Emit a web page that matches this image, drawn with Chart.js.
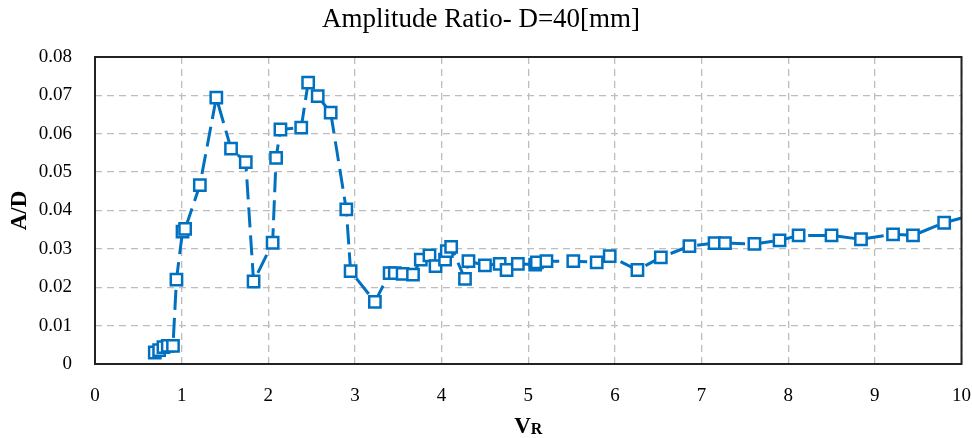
<!DOCTYPE html>
<html>
<head>
<meta charset="utf-8">
<script src="https://cdn.jsdelivr.net/npm/chart.js@4/dist/chart.umd.min.js"></script>
<style>
    html, body { margin: 0; padding: 0; background: #ffffff; }
    #wrap { width: 972px; height: 438px; }
</style>
</head>
<body>
<div id="wrap"><canvas id="ratioChart" width="972" height="438"></canvas></div>
<script>
// Velocity ratio (x) and amplitude ratio A/D (y)
const vrValues = [0.69, 0.74, 0.79, 0.84, 0.90, 0.94, 1.01, 1.04, 1.21, 1.40,
    1.57, 1.74, 1.83, 2.05, 2.09, 2.14, 2.38, 2.46, 2.57, 2.72,
    2.90, 2.95, 3.23, 3.40, 3.46, 3.55, 3.67, 3.76, 3.86, 3.93,
    4.04, 4.06, 4.11, 4.27, 4.31, 4.50, 4.67, 4.75, 4.88, 5.08,
    5.10, 5.21, 5.52, 5.79, 5.94, 6.26, 6.53, 6.86, 7.15, 7.27,
    7.61, 7.90, 8.12, 8.50, 8.84, 9.21, 9.44, 9.80, 10.3];
const ratioValues = [0.0030, 0.0036, 0.0044, 0.0047, 0.0047, 0.0220, 0.0345, 0.0352, 0.0466, 0.0694,
    0.0561, 0.0526, 0.0215, 0.0316, 0.0537, 0.0611, 0.0616, 0.0733, 0.0698, 0.0655,
    0.0403, 0.0242, 0.0162, 0.0237, 0.0237, 0.0235, 0.0233, 0.0272, 0.0283, 0.0255,
    0.0272, 0.0294, 0.0305, 0.0222, 0.0268, 0.0257, 0.0261, 0.0245, 0.0261, 0.0259,
    0.0265, 0.0268, 0.0268, 0.0265, 0.0281, 0.0245, 0.0278, 0.0307, 0.0315, 0.0315,
    0.0313, 0.0322, 0.0335, 0.0335, 0.0325, 0.0338, 0.0335, 0.0368, 0.0399];
const xTicks = [0, 1, 2, 3, 4, 5, 6, 7, 8, 9, 10];
const yTicks = [0, 0.01, 0.02, 0.03, 0.04, 0.05, 0.06, 0.07, 0.08];

const serif = "'Liberation Serif', 'DejaVu Serif', serif";
const blue = '#0070c0';

// Frame round the plot and the two axis titles
const framePlugin = {
    id: 'frame',
    afterDraw(chart) {
        const { ctx, chartArea: a } = chart;
        ctx.save();
        ctx.strokeStyle = '#222222';
        ctx.lineWidth = 2;
        ctx.strokeRect(a.left, a.top, a.right - a.left, a.bottom - a.top);

        ctx.fillStyle = '#000000';
        ctx.textBaseline = 'middle';

        // x title: V with a smaller R
        const cx = (a.left + a.right) / 2;
        ctx.font = 'bold 23px ' + serif;
        const vW = ctx.measureText('V').width;
        ctx.font = 'bold 16px ' + serif;
        const rW = ctx.measureText('R').width;
        const startX = cx - (vW + rW) / 2;
        ctx.textAlign = 'left';
        ctx.font = 'bold 23px ' + serif;
        ctx.fillText('V', startX, 427);
        ctx.font = 'bold 16px ' + serif;
        ctx.fillText('R', startX + vW, 430);

        // y title, rotated
        ctx.translate(20, (a.top + a.bottom) / 2);
        ctx.rotate(-Math.PI / 2);
        ctx.textAlign = 'center';
        ctx.font = 'bold 23px ' + serif;
        ctx.fillText('A/D', 0, 0);
        ctx.restore();
    }
};

document.addEventListener('DOMContentLoaded', function () {
    const points = vrValues.map((v, i) => ({ x: v, y: ratioValues[i] }));
    const ctx = document.getElementById('ratioChart').getContext('2d');

    new Chart(ctx, {
        type: 'line',
        data: {
            datasets: [{
                label: 'A/D',
                data: points,
                borderColor: blue,
                borderWidth: 3,
                borderDash: [20, 8],
                pointStyle: 'rect',
                pointRadius: 8,
                pointBorderWidth: 2.5,
                pointBorderColor: blue,
                pointBackgroundColor: '#ffffff',
                tension: 0,
                fill: false
            }]
        },
        options: {
            responsive: false,
            animation: false,
            layout: { padding: { left: 0, right: 10, top: 0, bottom: 0 } },
            plugins: {
                legend: { display: false },
                tooltip: { enabled: false },
                title: {
                    display: true,
                    text: 'Amplitude Ratio- D=40[mm]',
                    color: '#000000',
                    font: { family: serif, size: 27, weight: 'normal', lineHeight: 1.2 },
                    padding: { top: 4, bottom: 20.6 }
                }
            },
            scales: {
                x: {
                    type: 'linear',
                    min: xTicks[0],
                    max: xTicks[xTicks.length - 1],
                    afterBuildTicks: function (scale) {
                        scale.ticks = xTicks.map(v => ({ value: v }));
                    },
                    afterFit: function (scale) {
                        scale.height = 74;
                        scale.paddingLeft = 0;
                        scale.paddingRight = 0;
                    },
                    ticks: {
                        color: '#000000',
                        padding: 21,
                        maxRotation: 0,
                        font: { family: serif, size: 19 },
                        callback: v => String(v)
                    },
                    grid: { color: '#bdbdbd', lineWidth: 1.3, drawTicks: false },
                    border: { display: false, dash: [7, 5] }
                },
                y: {
                    type: 'linear',
                    min: yTicks[0],
                    max: yTicks[yTicks.length - 1],
                    afterBuildTicks: function (scale) {
                        scale.ticks = yTicks.map(v => ({ value: v }));
                    },
                    afterFit: function (scale) { scale.width = 95; },
                    ticks: {
                        color: '#000000',
                        padding: 23,
                        font: { family: serif, size: 19 },
                        callback: v => (v === 0 ? '0' : v.toFixed(2))
                    },
                    grid: { color: '#bdbdbd', lineWidth: 1.3, drawTicks: false },
                    border: { display: false, dash: [7, 5] }
                }
            }
        },
        plugins: [framePlugin]
    });
});
</script>
</body>
</html>
